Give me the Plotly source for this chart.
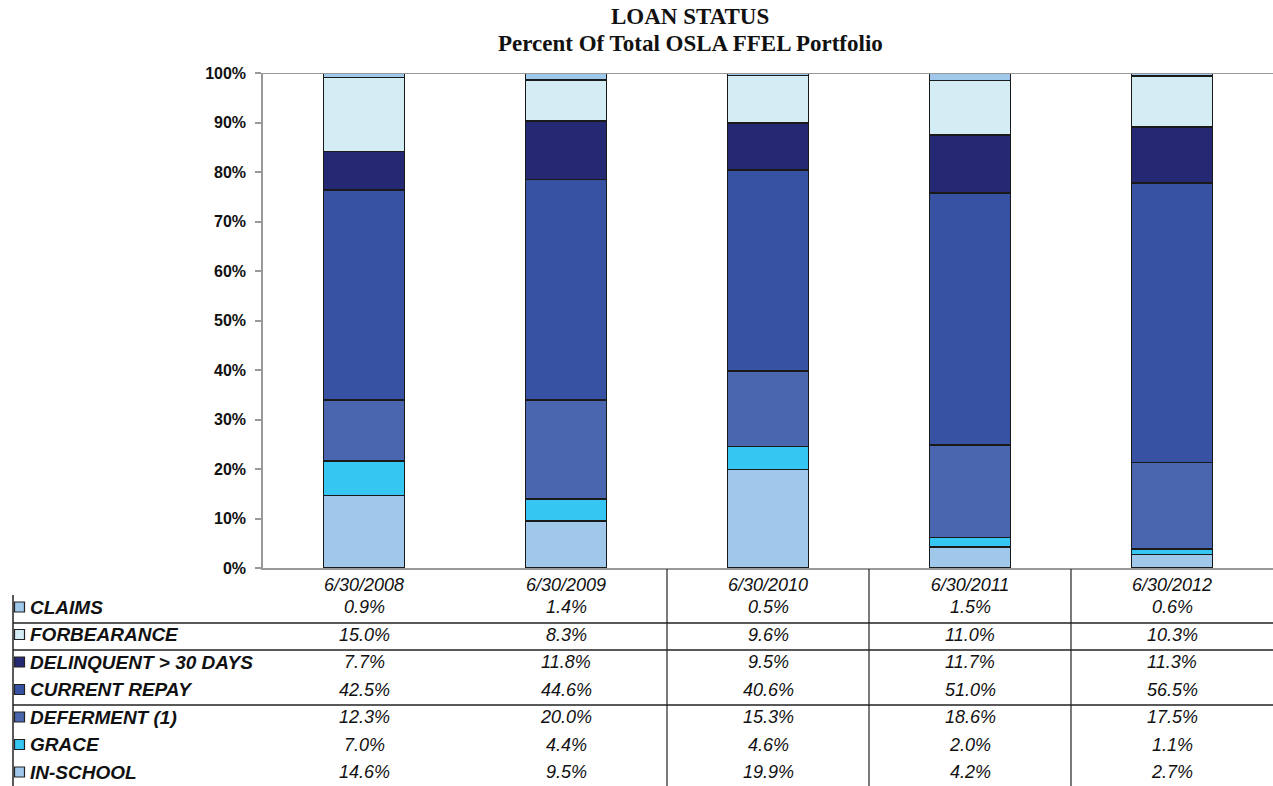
import plotly.graph_objects as go

# Fiscal year-end dates
dates = ["6/30/2008", "6/30/2009", "6/30/2010", "6/30/2011", "6/30/2012"]

# Loan status shares (% of total portfolio), bottom of stack first
in_school = [14.6, 9.5, 19.9, 4.2, 2.7]
grace = [7.0, 4.4, 4.6, 2.0, 1.1]
deferment = [12.3, 20.0, 15.3, 18.6, 17.5]
current_repay = [42.5, 44.6, 40.6, 51.0, 56.5]
delinquent = [7.7, 11.8, 9.5, 11.7, 11.3]
forbearance = [15.0, 8.3, 9.6, 11.0, 10.3]
claims = [0.9, 1.4, 0.5, 1.5, 0.6]

series = [
    ("IN-SCHOOL", in_school, "#9fc8ea"),
    ("GRACE", grace, "#36c6f2"),
    ("DEFERMENT (1)", deferment, "#4a66ae"),
    ("CURRENT REPAY", current_repay, "#3852a3"),
    ("DELINQUENT > 30 DAYS", delinquent, "#252872"),
    ("FORBEARANCE", forbearance, "#d4edf4"),
    ("CLAIMS", claims, "#9fc8ea"),
]

W, H = 1273, 786
ML, MR, MT, MB = 263, 0, 73, 218
PW, PH = W - ML - MR, H - MT - MB

SANS = "Liberation Sans, Arial, sans-serif"
SERIF = "Liberation Serif, Times New Roman, serif"


def px(x):
    return (x - ML) / PW


def py(y):
    return (H - MB - y) / PH


fig = go.Figure()
for name, vals, color in series:
    fig.add_trace(go.Bar(
        x=dates, y=vals, name=name, width=0.4,
        marker=dict(color=color, line=dict(color="#1a1a1a", width=1.5)),
        showlegend=False,
    ))

shapes = []
annotations = []

# Two-line title
for text, yc in [("LOAN STATUS", 17), ("Percent Of Total OSLA FFEL Portfolio", 43)]:
    annotations.append(dict(xref="paper", yref="paper", x=px(690), y=py(yc),
                            xanchor="center", yanchor="middle", showarrow=False,
                            text=f"<b>{text}</b>",
                            font=dict(family=SERIF, size=23, color="#111111")))

# 100% reference line across the top of the plot
shapes.append(dict(type="line", xref="paper", yref="y", x0=0, x1=1, y0=100, y1=100,
                   line=dict(color="#999999", width=2)))

# Data table below the chart: rows listed top to bottom
row_y = [607, 634.5, 662, 689.5, 717, 744.5, 772]
for (name, vals, color), yc in zip(reversed(series), row_y):
    shapes.append(dict(type="rect", xref="paper", yref="paper",
                       x0=px(14.5), x1=px(24.5), y0=py(yc + 5), y1=py(yc - 5),
                       fillcolor=color, line=dict(color="#222222", width=1.2)))
    annotations.append(dict(xref="paper", yref="paper", x=px(28), y=py(yc),
                            xanchor="left", yanchor="middle", showarrow=False,
                            text=f"<b><i>{name}</i></b>",
                            font=dict(family=SANS, size=19, color="#111111")))
    for d, v in zip(dates, vals):
        annotations.append(dict(xref="x", yref="paper", x=d, y=py(yc),
                                xanchor="center", yanchor="middle", showarrow=False,
                                text=f"<i>{v:.1f}%</i>",
                                font=dict(family=SANS, size=18, color="#111111")))

# Table grid lines
for yl in [623, 650, 705]:
    shapes.append(dict(type="line", xref="paper", yref="paper",
                       x0=px(13), x1=1, y0=py(yl), y1=py(yl),
                       line=dict(color="#222222", width=1.5)))
shapes.append(dict(type="line", xref="paper", yref="paper",
                   x0=px(13), x1=px(13), y0=py(595), y1=py(786),
                   line=dict(color="#222222", width=1.5)))
for xl in [667, 869, 1071]:
    shapes.append(dict(type="line", xref="paper", yref="paper",
                       x0=px(xl), x1=px(xl), y0=py(569), y1=py(786),
                       line=dict(color="#222222", width=1.2)))

fig.update_layout(
    width=W, height=H,
    margin=dict(l=ML, r=MR, t=MT, b=MB),
    barmode="stack",
    plot_bgcolor="white", paper_bgcolor="white",
    xaxis=dict(
        showline=True, linecolor="#999999", linewidth=1.5,
        ticks="", showgrid=False, zeroline=False,
        tickfont=dict(family=SANS, size=18, color="#111111", style="italic"),
        ticklabelstandoff=0,
    ),
    yaxis=dict(
        range=[0, 100], dtick=10, ticksuffix="%",
        showline=True, linecolor="#999999", linewidth=1.5,
        ticks="outside", ticklen=6, tickcolor="#999999", tickwidth=1.5,
        showgrid=False, zeroline=False,
        tickfont=dict(family=SANS, size=16, color="#111111", weight="bold"),
        ticklabelstandoff=6,
    ),
    shapes=shapes,
    annotations=annotations,
)

fig.write_html("out.html")
